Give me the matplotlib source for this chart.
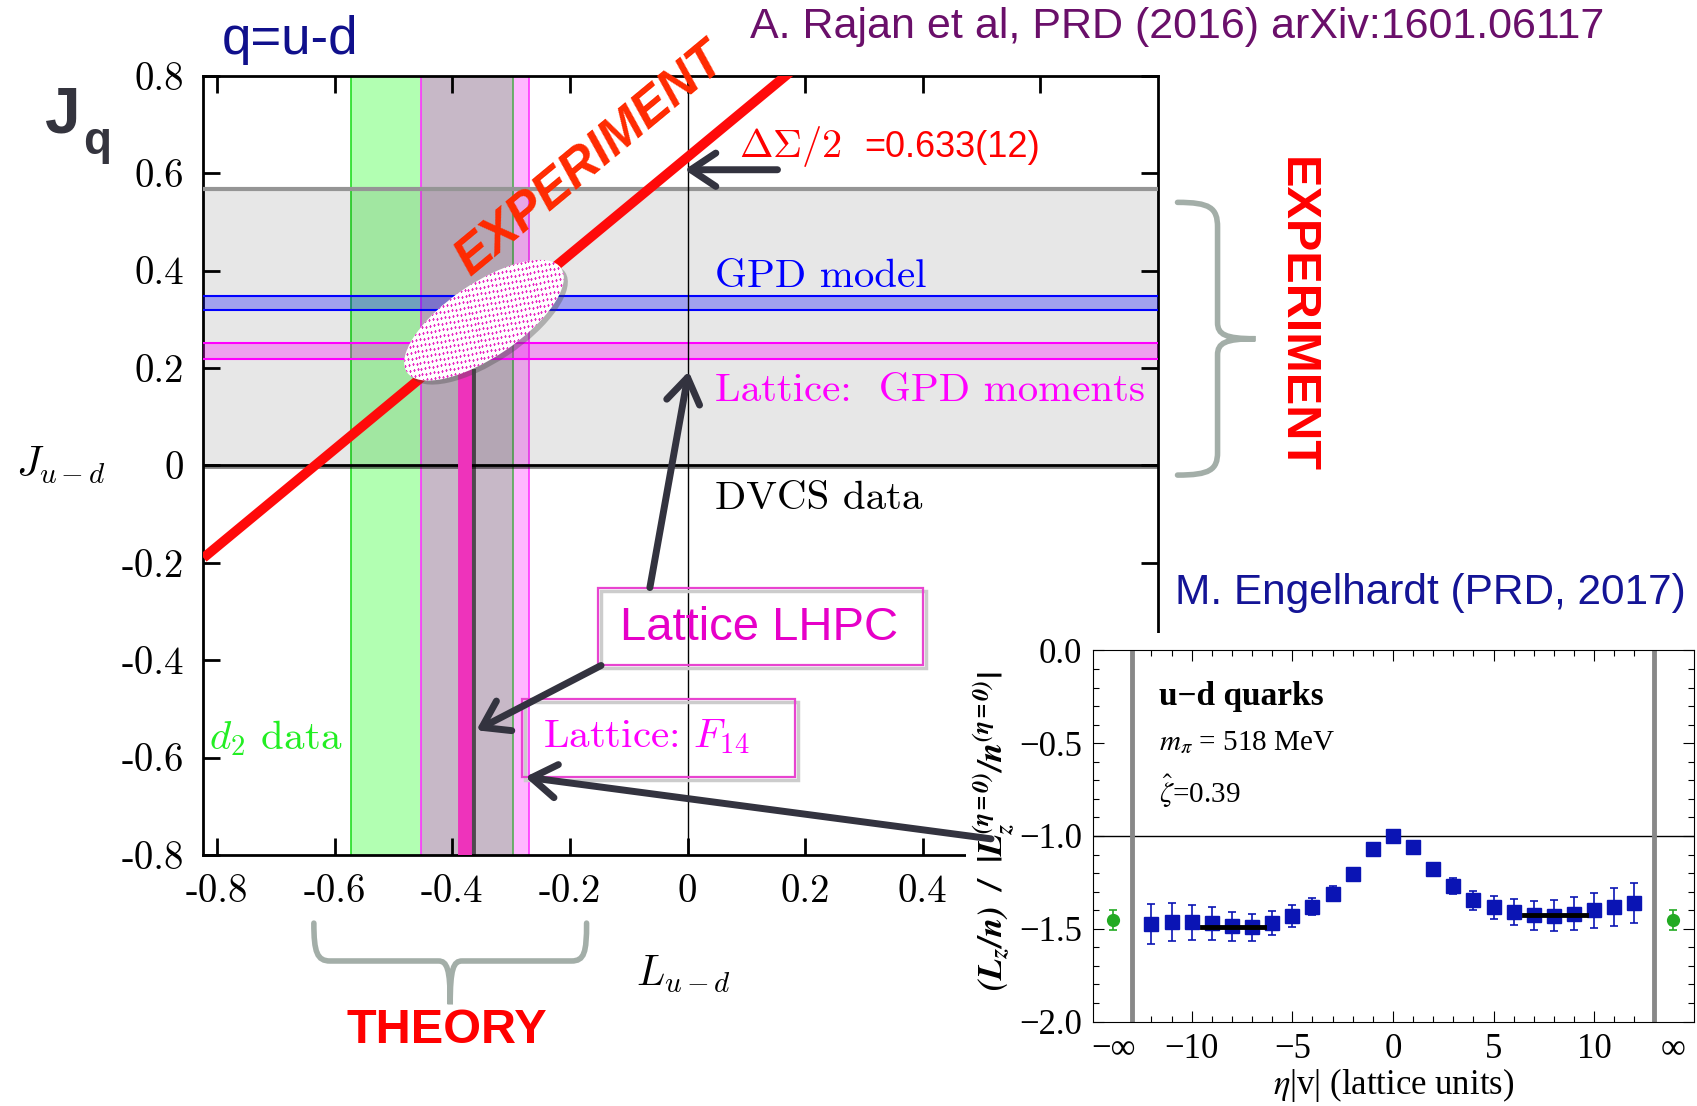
import numpy as np
import matplotlib
matplotlib.use('Agg')
import matplotlib.pyplot as plt
from matplotlib.patches import Rectangle, Ellipse, FancyArrowPatch, PathPatch
from matplotlib.path import Path
from matplotlib import transforms, patheffects
from matplotlib.mathtext import MathTextParser

plt.rcParams['mathtext.fontset'] = 'cm'

SANS = 'Liberation Sans'
SERIF = 'cmr10'
TIMES = 'Liberation Serif'

# reference layout size (px) used for placing the figure-level texts
RW, RH = 1568, 1022
def fx(x): return x / RW
def fy(y): return 1 - y / RH

# ---- main panel: J_{u-d} vs L_{u-d} (Rajan et al.) ----
dsigma_half = 0.633
dvcs_band = [0.0, 0.567]
gpd_model_band = [0.320, 0.347]
lattice_gpd_band = [0.218, 0.251]
d2_band = [-0.573, -0.296]
f14_band = [-0.453, -0.270]
lhpc_L = -0.378
lhpc_J_top = 0.20
ellipse_center = [-0.346, 0.298]

main_xticks = [-0.8, -0.6, -0.4, -0.2, 0.0, 0.2, 0.4, 0.6]
main_xlabels = ['-0.8', '-0.6', '-0.4', '-0.2', '0', '0.2', '0.4', '0.6']
main_yticks = [-0.8, -0.6, -0.4, -0.2, 0.0, 0.2, 0.4, 0.6, 0.8]
main_ylabels = ['-0.8', '-0.6', '-0.4', '-0.2', '0', '0.2', '0.4', '0.6', '0.8']

# ---- inset: Engelhardt, L_z ratio vs staple length ----
eta = list(range(-12, 13))
ratio = [-1.474, -1.465, -1.465, -1.470, -1.487, -1.493, -1.469, -1.430, -1.380,
         -1.310, -1.207, -1.068, -1.000, -1.060, -1.180, -1.272, -1.347, -1.385,
         -1.410, -1.427, -1.430, -1.418, -1.400, -1.381, -1.362]
ratio_err = [0.109, 0.103, 0.095, 0.089, 0.080, 0.073, 0.064, 0.058, 0.047, 0.039,
             0.028, 0.012, 0.008, 0.012, 0.026, 0.043, 0.051, 0.062, 0.069, 0.078,
             0.083, 0.089, 0.094, 0.102, 0.109]
eta_inf = [-13.9, 13.9]
ratio_inf = [-1.452, -1.452]
ratio_inf_err = [0.055, 0.055]
fit_left = [-9.5, -6.4, -1.489]
fit_right = [6.5, 9.6, -1.424]
inf_marks = [-12.95, 12.95]

fig = plt.figure(figsize=(16.97, 11.06), dpi=100)

ax = fig.add_axes([fx(188), fy(790), fx(1070) - fx(188), fy(70) - fy(790)])
ax.set_xlim(-0.823, 0.80)
ax.set_ylim(-0.8, 0.8)

# vertical bands (theory)
ax.axvspan(*d2_band, color='lime', alpha=0.30, lw=0, zorder=1)
ax.axvspan(*f14_band, color='magenta', alpha=0.28, lw=0, zorder=1)
ax.axvline(d2_band[0], color='#22dd22', lw=1.2, zorder=2)
ax.axvline(d2_band[1], color='#55aa55', lw=1.2, zorder=2)
for v in f14_band:
    ax.axvline(v, color='#ff33ff', lw=1.2, zorder=2)

# DVCS band
ax.axhspan(*dvcs_band, color='black', alpha=0.095, lw=0, zorder=3)
ax.axhline(dvcs_band[1], color='#959595', lw=3, zorder=3)

# GPD model / lattice GPD moment bands
ax.axhspan(*gpd_model_band, color='blue', alpha=0.30, lw=0, zorder=4)
for v in gpd_model_band:
    ax.axhline(v, color='blue', lw=1.5, zorder=4)
ax.axhspan(*lattice_gpd_band, color='magenta', alpha=0.30, lw=0, zorder=4)
for v in lattice_gpd_band:
    ax.axhline(v, color='magenta', lw=1.5, zorder=4)

ax.axvline(0, color='black', lw=1.0, zorder=5)
ax.axhline(0, color='black', lw=2.0, zorder=6,
           path_effects=[patheffects.SimpleLineShadow(offset=(0, -1.5), alpha=0.5), patheffects.Normal()])

Ls = np.array(ax.get_xlim())
ax.plot(Ls, Ls + dsigma_half, color='#ff0a0a', lw=7, zorder=6, solid_capstyle='butt')

ax.plot([lhpc_L, lhpc_L], [-0.8, lhpc_J_top], color='#ee33bb', lw=10, zorder=7,
        solid_capstyle='butt',
        path_effects=[patheffects.SimpleLineShadow(offset=(2.5, -1), alpha=0.6), patheffects.Normal()])

# overlap ellipse (sizes in inches around its data centre)
e_w, e_h, e_ang = 1.86, 0.74, 34
ell_tr = fig.dpi_scale_trans + transforms.ScaledTranslation(
    ellipse_center[0], ellipse_center[1], ax.transData)
shadow_tr = ell_tr + transforms.Affine2D().translate(4, -4)
ax.add_patch(Ellipse((0, 0), e_w, e_h, angle=e_ang, transform=shadow_tr, fc='#444444',
                     ec='none', alpha=0.35, zorder=8))
ell = Ellipse((0, 0), e_w, e_h, angle=e_ang, transform=ell_tr, fc='white', ec='none', zorder=8.1)
ax.add_patch(ell)
gx, gy = np.meshgrid(np.arange(-1.1, 1.1, 0.04), np.arange(-0.6, 0.6, 0.058))
rot = np.deg2rad(10)
px = gx * np.cos(rot) - gy * np.sin(rot)
py = gx * np.sin(rot) + gy * np.cos(rot)
dots = ax.scatter(px.ravel(), py.ravel(), marker='+', s=3.5, lw=0.8, color='#e82cc4',
                  transform=ell_tr, zorder=8.2)
dots.set_clip_path(ell)

for s in ax.spines.values():
    s.set_linewidth(2)
ax.set_xticks(main_xticks)
ax.set_xticklabels(main_xlabels, fontfamily=SERIF, fontsize=28)
ax.set_yticks(main_yticks)
ax.set_yticklabels(main_ylabels, fontfamily=SERIF, fontsize=28)
ax.tick_params(direction='in', length=12, width=2, top=True, right=True, pad=14)

ax.text(0.046, 0.367, 'GPD model', color='blue', fontfamily=SERIF, fontsize=29.5, zorder=9)
ax.text(0.046, 0.133, 'Lattice:  GPD moments', color='magenta', fontfamily=SERIF, fontsize=29.5, zorder=9)
ax.text(0.046, -0.089, 'DVCS data', color='black', fontfamily=SERIF, fontsize=29.5, zorder=9)
ax.text(-0.814, -0.582, r'$d_2$ data', color='#22ee22', fontfamily=SERIF, fontsize=29.5, zorder=9)
ax.text(0.087, 0.633, r'$\Delta\Sigma/2$', color='red', fontsize=29, zorder=9)
ax.text(0.30, 0.633, '=0.633(12)', color='red', fontfamily=SANS, fontsize=26, zorder=9)
ax.text(-0.166, 0.627, 'EXPERIMENT', color='#ff2a00', fontfamily=SANS, fontsize=37,
        fontweight='bold', fontstyle='italic', rotation=45, transform_rotates_text=True,
        rotation_mode='anchor', ha='center', va='center', zorder=9)

# callout boxes
for (l0, l1, j0, j1) in [(-0.153, 0.40, -0.409, -0.251), (-0.282, 0.182, -0.64, -0.48)]:
    sh = ax.transData + transforms.Affine2D().translate(3, -3)
    ax.add_patch(Rectangle((l0, j0), l1 - l0, j1 - j0, fc='none', ec='#cccccc', lw=2.5,
                           transform=sh, zorder=9))
    ax.add_patch(Rectangle((l0, j0), l1 - l0, j1 - j0, fc='none', ec='#e844d0', lw=1.6, zorder=9.1))
ax.text(0.122, -0.333, 'Lattice LHPC', color='#e600c8', fontfamily=SANS, fontsize=34,
        ha='center', va='center', zorder=9.2)
ax.text(-0.245, -0.556, r'Lattice: $F_{14}$', color='#ff00ff', fontfamily=SERIF, fontsize=29.5,
        va='center', zorder=9.2)

# white cover under the inset
fig.add_artist(Rectangle((fx(893), 0), 1 - fx(893), fy(585), transform=fig.transFigure,
                         fc='white', ec='none', zorder=1))

# inset
ins = fig.add_axes([fx(1010), fy(944), fx(1565) - fx(1010), fy(601) - fy(944)], zorder=2)
ins.set_xlim(-14.9, 14.95)
ins.set_ylim(-2.0, 0.0)
ins.axhline(-1.0, color='black', lw=1.0)
for v in inf_marks:
    ins.axvline(v, color='#888888', lw=3.5)
ins.errorbar(eta, ratio, yerr=ratio_err, fmt='s', color='#0a14b4', ms=9.5, elinewidth=1.2,
             capsize=3, capthick=1.2, zorder=3)
ins.errorbar(eta_inf, ratio_inf, yerr=ratio_inf_err, fmt='o', color='#22aa22', ms=8.5,
             elinewidth=1.2, capsize=3, capthick=1.2, zorder=3)
ins.plot(fit_left[:2], [fit_left[2]] * 2, color='black', lw=3.5, zorder=4)
ins.plot(fit_right[:2], [fit_right[2]] * 2, color='black', lw=3.5, zorder=4)
ins.set_xticks([-10, -5, 0, 5, 10])
ins.set_xticklabels(['\u221210', '\u22125', '0', '5', '10'], fontfamily=TIMES, fontsize=25)
ins.set_xticks(range(-12, 13), minor=True)
ins.set_yticks([0.0, -0.5, -1.0, -1.5, -2.0])
ins.set_yticklabels(['0.0', '\u22120.5', '\u22121.0', '\u22121.5', '\u22122.0'], fontfamily=TIMES, fontsize=25)
ins.set_yticks(np.arange(-2.0, 0.01, 0.1), minor=True)
ins.tick_params(which='both', direction='in', top=True, right=True, width=0.8, pad=8)
ins.tick_params(which='major', length=8)
ins.tick_params(which='minor', length=4)
for s in ins.spines.values():
    s.set_linewidth(0.8)
xt = transforms.blended_transform_factory(ins.transData, ins.transAxes)
for x, lab in zip(eta_inf, ['\u2212\u221e', '\u221e']):
    ins.text(x, -0.03, lab, transform=xt, ha='center', va='top', fontfamily=TIMES, fontsize=25)
ins.text(-11.6, -0.25, 'u\u2212d quarks', fontfamily=TIMES, fontweight='bold', fontsize=24, va='center')
ins.text(-11.6, -0.50, r'$m_\pi$ = 518 MeV', fontfamily=TIMES, fontsize=21, va='center', math_fontfamily='stix')
ins.text(-11.6, -0.76, r'$\hat{\zeta}$=0.39', fontfamily=TIMES, fontsize=21, va='center', math_fontfamily='stix')

ylab = r'$\mathbfit{(L_z/n)\ \ /\ \ |L_z^{(\eta=0)}/n^{(\eta=0)}|}$'
try:
    MathTextParser('path').parse(ylab, prop=matplotlib.font_manager.FontProperties(math_fontfamily='stix'))
except Exception:
    ylab = r'$\mathbf{(L_z/n)\ \ /\ \ |L_z^{(\eta=0)}/n^{(\eta=0)}|}$'
fig.text(fx(918), fy(768), ylab, rotation=90, ha='center',
         va='center', fontsize=25, math_fontfamily='stix', zorder=3)
fig.text(fx(1288), fy(1003), r'$\eta$|v| (lattice units)', ha='center', va='center',
         fontfamily=TIMES, fontsize=25, math_fontfamily='stix', zorder=3)

# figure-level labels
fig.text(fx(205), fy(50), 'q=u-d', color='#10108c', fontfamily=SANS, fontsize=38)
fig.text(fx(693), fy(35), 'A. Rajan et al, PRD (2016) arXiv:1601.06117', color='#6a0f6a',
         fontfamily=SANS, fontsize=31)
fig.text(fx(42), fy(122), 'J', color='#34343e', fontfamily=SANS, fontweight='bold', fontsize=46)
fig.text(fx(77), fy(142), 'q', color='#34343e', fontfamily=SANS, fontweight='bold', fontsize=33)
fig.text(fx(15), fy(430), r'$J_{u-d}$', fontsize=30, va='center')
fig.text(fx(632), fy(900), r'$L_{u-d}$', fontsize=30, ha='center', va='center')
fig.text(fx(1198), fy(291), 'EXPERIMENT', color='red', fontfamily=SANS, fontweight='bold',
         fontsize=35, rotation=-90, ha='center', va='center')
fig.text(fx(413), fy(952), 'THEORY', color='red', fontfamily=SANS, fontweight='bold',
         fontsize=35, ha='center', va='center')
fig.text(fx(1086), fy(548), 'M. Engelhardt (PRD, 2017)', color='#141496', fontfamily=SANS,
         fontsize=30.5, va='center', zorder=3)

# braces
def brace(pts, codes):
    verts = [(fx(x), fy(y)) for x, y in pts]
    fig.add_artist(PathPatch(Path(verts, codes), transform=fig.transFigure, fc='none',
                             ec='#a3aea8', lw=4, capstyle='round', zorder=3))

C4, LT, MV = Path.CURVE4, Path.LINETO, Path.MOVETO
brace([(1088, 187), (1118, 187), (1125, 192), (1125, 210), (1125, 298),
       (1125, 309), (1132, 313), (1160, 313), (1132, 313), (1125, 317), (1125, 328),
       (1125, 418), (1125, 434), (1118, 439), (1088, 439)],
      [MV, C4, C4, C4, LT, C4, C4, C4, C4, C4, C4, LT, C4, C4, C4])
brace([(290, 853), (290, 880), (293, 888), (305, 888), (405, 888),
       (413, 888), (416, 895), (416, 928), (416, 895), (419, 888), (427, 888),
       (528, 888), (540, 888), (542, 880), (542, 853)],
      [MV, C4, C4, C4, LT, C4, C4, C4, C4, C4, C4, LT, C4, C4, C4])

# arrows (drawn above the inset)
arrows = [((-0.064, -0.251), (0.002, 0.193)),
          ((-0.147, -0.411), (-0.359, -0.544)),
          ((0.516, -0.767), (-0.276, -0.640)),
          ((0.153, 0.607), (-0.005, 0.607))]
for a, b in arrows:
    fig.add_artist(FancyArrowPatch(a, b, transform=ax.transData,
                                   arrowstyle='->,head_length=0.45,head_width=0.3',
                                   mutation_scale=40, lw=5, color='#33333f',
                                   shrinkA=0, shrinkB=0, zorder=10))

fig.savefig('out.png', dpi=100)
